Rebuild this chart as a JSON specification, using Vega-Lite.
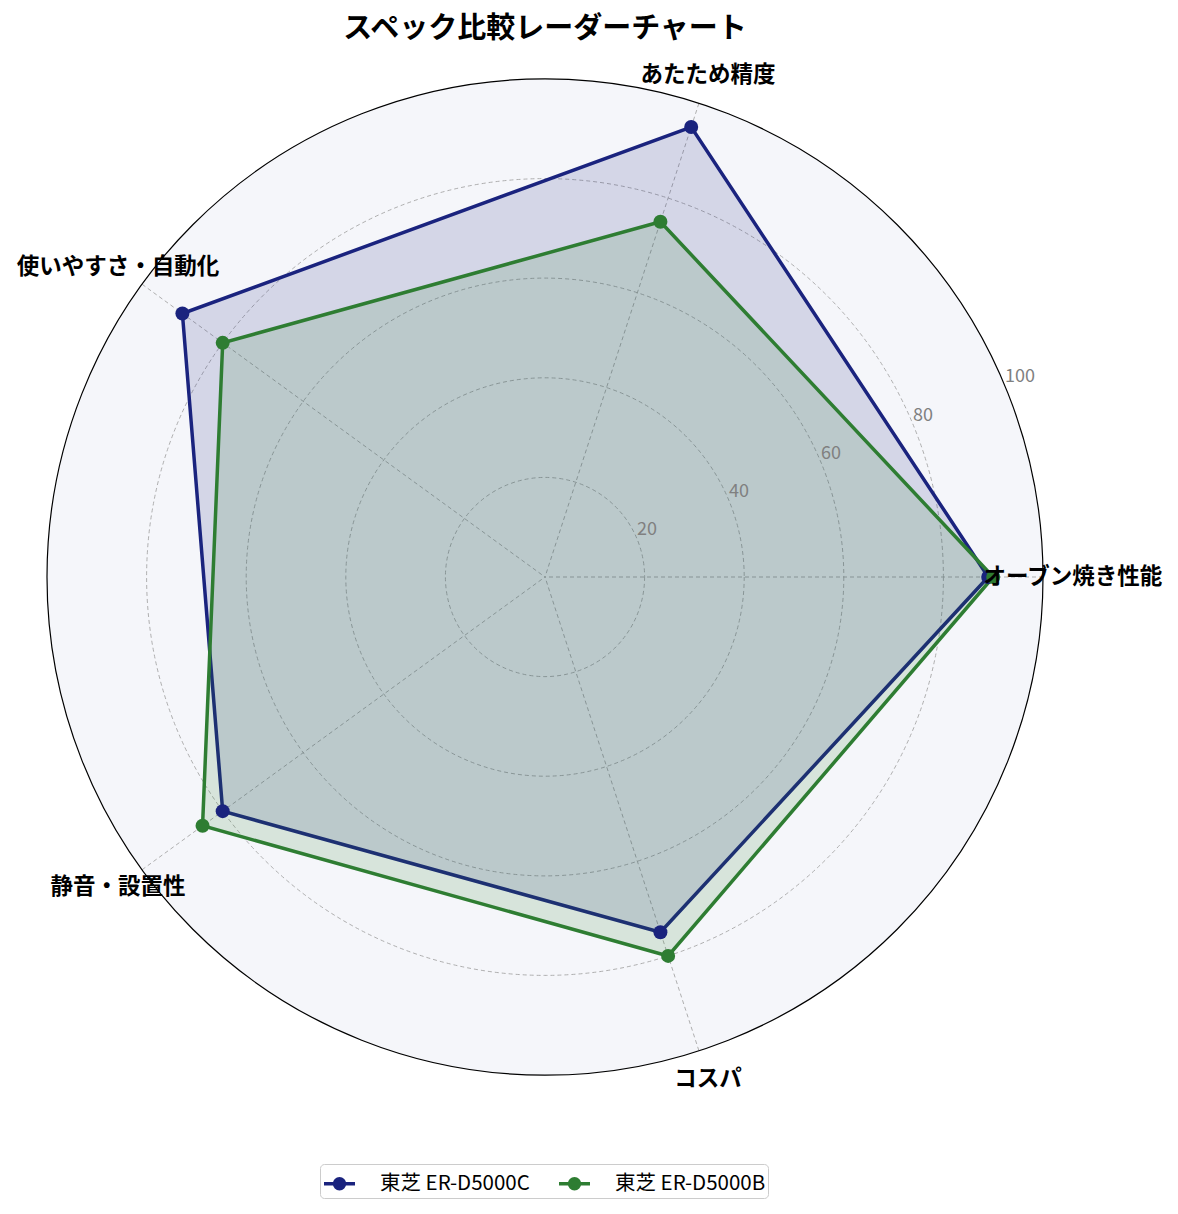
{
  "$schema": "https://vega.github.io/schema/vega-lite/v6.json",
  "width": 996,
  "height": 996,
  "autosize": {"type": "none"},
  "padding": {"left": 47, "top": 79, "right": 135, "bottom": 139},
  "background": "white",
  "config": {"view": {"stroke": null}, "font": "Noto Sans CJK JP"},
  "title": {
    "text": "スペック比較レーダーチャート",
    "font": "Noto Sans CJK JP",
    "fontSize": 29,
    "fontWeight": "bold",
    "color": "#000000",
    "anchor": "middle",
    "frame": "group",
    "offset": 20
  },
  "datasets": {
    "axes": [
      {"item": "オーブン焼き性能", "i": 0},
      {"item": "あたため精度", "i": 1},
      {"item": "使いやすさ・自動化", "i": 2},
      {"item": "静音・設置性", "i": 3},
      {"item": "コスパ", "i": 4}
    ],
    "scores": [
      {"model": "東芝 ER-D5000C", "item": "オーブン焼き性能", "i": 0, "score": 89},
      {"model": "東芝 ER-D5000C", "item": "あたため精度", "i": 1, "score": 95},
      {"model": "東芝 ER-D5000C", "item": "使いやすさ・自動化", "i": 2, "score": 90},
      {"model": "東芝 ER-D5000C", "item": "静音・設置性", "i": 3, "score": 80},
      {"model": "東芝 ER-D5000C", "item": "コスパ", "i": 4, "score": 75},
      {"model": "東芝 ER-D5000B", "item": "オーブン焼き性能", "i": 0, "score": 90},
      {"model": "東芝 ER-D5000B", "item": "あたため精度", "i": 1, "score": 75},
      {"model": "東芝 ER-D5000B", "item": "使いやすさ・自動化", "i": 2, "score": 80},
      {"model": "東芝 ER-D5000B", "item": "静音・設置性", "i": 3, "score": 85},
      {"model": "東芝 ER-D5000B", "item": "コスパ", "i": 4, "score": 80}
    ],
    "rings": [{"r": 20}, {"r": 40}, {"r": 60}, {"r": 80}, {"r": 100}]
  },
  "layer": [
    {
      "data": {"name": "rings"},
      "transform": [{"filter": "datum.r == 100"}],
      "mark": {"type": "point", "shape": "circle", "filled": true, "fill": "#F5F6FA", "opacity": 1, "strokeWidth": 0},
      "encoding": {
        "x": {"datum": 0, "type": "quantitative", "scale": {"domain": [-100, 100]}, "axis": null},
        "y": {"datum": 0, "type": "quantitative", "scale": {"domain": [-100, 100]}, "axis": null},
        "size": {"field": "r", "type": "quantitative", "scale": {"type": "pow", "exponent": 2, "domain": [0, 100], "range": [0, 992016], "zero": true}, "legend": null}
      }
    },
    {
      "data": {"name": "rings"},
      "transform": [{"filter": "datum.r < 100"}],
      "mark": {"type": "point", "shape": "circle", "filled": false, "stroke": "#a6a6a6", "opacity": 1, "strokeWidth": 0.9, "strokeDash": [4, 3]},
      "encoding": {
        "x": {"datum": 0, "type": "quantitative", "scale": {"domain": [-100, 100]}, "axis": null},
        "y": {"datum": 0, "type": "quantitative", "scale": {"domain": [-100, 100]}, "axis": null},
        "size": {"field": "r", "type": "quantitative", "scale": {"type": "pow", "exponent": 2, "domain": [0, 100], "range": [0, 992016], "zero": true}, "legend": null}
      }
    },
    {
      "data": {"name": "axes"},
      "transform": [
        {"calculate": "2 * PI * datum.i / 5", "as": "a"},
        {"calculate": "100 * cos(datum.a)", "as": "x"},
        {"calculate": "100 * sin(datum.a)", "as": "y"}
      ],
      "mark": {"type": "rule", "stroke": "#a6a6a6", "strokeWidth": 0.9, "strokeDash": [4, 3]},
      "encoding": {
        "x": {"field": "x", "type": "quantitative", "scale": {"domain": [-100, 100]}, "axis": null},
        "y": {"field": "y", "type": "quantitative", "scale": {"domain": [-100, 100]}, "axis": null},
        "x2": {"datum": 0},
        "y2": {"datum": 0}
      }
    },
    {
      "data": {"name": "scores"},
      "transform": [
        {"calculate": "2 * PI * datum.i / 5", "as": "a"},
        {"calculate": "datum.score * cos(datum.a)", "as": "x"},
        {"calculate": "datum.score * sin(datum.a)", "as": "y"}
      ],
      "layer": [
        {
          "mark": {"type": "line", "interpolate": "linear-closed", "strokeWidth": 3.5, "fillOpacity": 0.15},
          "encoding": {
            "x": {"field": "x", "type": "quantitative", "scale": {"domain": [-100, 100]}, "axis": null},
            "y": {"field": "y", "type": "quantitative", "scale": {"domain": [-100, 100]}, "axis": null},
            "order": {"field": "i"},
            "color": {
              "field": "model",
              "type": "nominal",
              "sort": null,
              "scale": {"domain": ["東芝 ER-D5000C", "東芝 ER-D5000B"], "range": ["#1a237e", "#2e7d32"]},
              "legend": {
                "title": null,
                "orient": "none",
                "legendX": 273,
                "legendY": 1085,
                "direction": "horizontal",
                "symbolType": "M-1,0H1M-0.32,0A0.32,0.32,0,1,1,0.32,0A0.32,0.32,0,1,1,-0.32,0Z",
                "symbolSize": 961,
                "symbolStrokeWidth": 3.5,
                "symbolOpacity": 1,
                "labelFont": "Noto Sans CJK JP",
                "labelFontSize": 20.5,
                "labelColor": "#000000",
                "labelOffset": 23,
                "columnPadding": 22,
                "padding": 2,
                "strokeColor": "#cccccc",
                "fillColor": "#ffffff",
                "cornerRadius": 4,
                "encode": {
                  "symbols": {
                    "update": {
                      "fill": {"scale": "color", "field": "value"},
                      "stroke": {"scale": "color", "field": "value"}
                    }
                  }
                }
              }
            },
            "fill": {
              "field": "model",
              "type": "nominal",
              "sort": null,
              "scale": {"domain": ["東芝 ER-D5000C", "東芝 ER-D5000B"], "range": ["#1a237e", "#2e7d32"]},
              "legend": null
            }
          }
        },
        {
          "mark": {"type": "point", "shape": "circle", "filled": true, "size": 196, "opacity": 1},
          "encoding": {
            "x": {"field": "x", "type": "quantitative", "scale": {"domain": [-100, 100]}, "axis": null},
            "y": {"field": "y", "type": "quantitative", "scale": {"domain": [-100, 100]}, "axis": null},
            "color": {"field": "model", "type": "nominal", "sort": null}
          }
        }
      ]
    },
    {
      "data": {"name": "rings"},
      "transform": [{"filter": "datum.r == 100"}],
      "mark": {"type": "point", "shape": "circle", "filled": false, "stroke": "#000000", "opacity": 1, "strokeWidth": 1.2},
      "encoding": {
        "x": {"datum": 0, "type": "quantitative", "scale": {"domain": [-100, 100]}, "axis": null},
        "y": {"datum": 0, "type": "quantitative", "scale": {"domain": [-100, 100]}, "axis": null},
        "size": {"field": "r", "type": "quantitative", "scale": {"type": "pow", "exponent": 2, "domain": [0, 100], "range": [0, 992016], "zero": true}, "legend": null}
      }
    },
    {
      "data": {"name": "rings"},
      "transform": [
        {"calculate": "datum.r * cos(PI / 8)", "as": "x"},
        {"calculate": "datum.r * sin(PI / 8)", "as": "y"}
      ],
      "mark": {"type": "text", "align": "left", "baseline": "bottom", "font": "Noto Sans CJK JP", "fontSize": 18, "color": "#808080"},
      "encoding": {
        "x": {"field": "x", "type": "quantitative", "scale": {"domain": [-100, 100]}, "axis": null},
        "y": {"field": "y", "type": "quantitative", "scale": {"domain": [-100, 100]}, "axis": null},
        "text": {"field": "r", "type": "quantitative"}
      }
    },
    {
      "data": {"name": "axes"},
      "transform": [
        {"calculate": "2 * PI * datum.i / 5", "as": "a"},
        {"calculate": "106 * cos(datum.a)", "as": "x"},
        {"calculate": "106 * sin(datum.a)", "as": "y"}
      ],
      "mark": {"type": "text", "align": "center", "baseline": "middle", "font": "Noto Sans CJK JP", "fontSize": 22.5, "fontWeight": "bold", "color": "#000000"},
      "encoding": {
        "x": {"field": "x", "type": "quantitative", "scale": {"domain": [-100, 100]}, "axis": null},
        "y": {"field": "y", "type": "quantitative", "scale": {"domain": [-100, 100]}, "axis": null},
        "text": {"field": "item", "type": "nominal"}
      }
    }
  ]
}
